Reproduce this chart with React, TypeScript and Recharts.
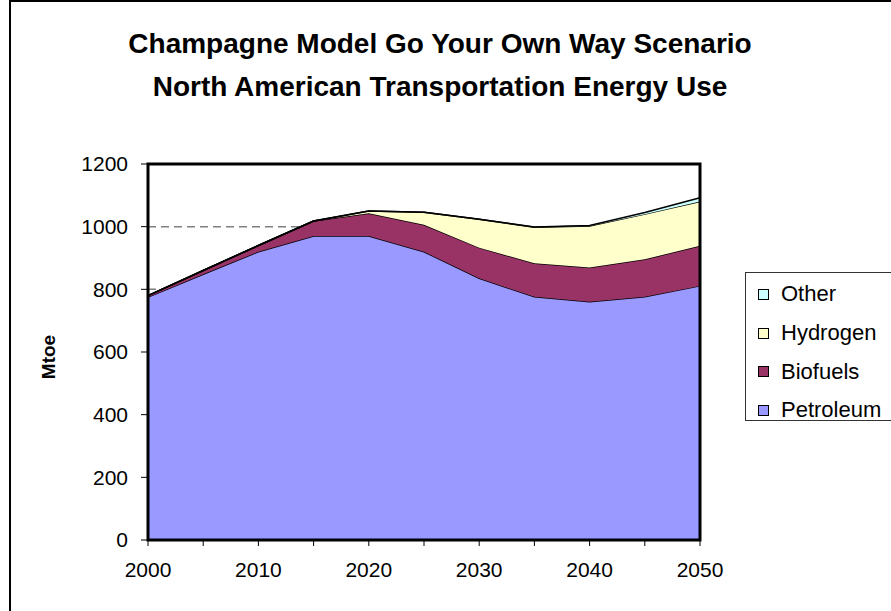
import React from 'react';
import { AreaChart, Area, XAxis, YAxis, CartesianGrid, ReferenceArea } from 'recharts';

const years = [2000, 2005, 2010, 2015, 2020, 2025, 2030, 2035, 2040, 2045, 2050];
const petroleum = [775, 848, 920, 970, 970, 920, 835, 776, 760, 776, 811];
const biofuels = [5, 12, 20, 48, 73, 86, 98, 107, 110, 120, 128];
const hydrogen = [0, 0, 0, 0, 7, 40, 91, 115, 132, 144, 141];
const other = [0, 0, 0, 0, 0, 0, 0, 1, 2, 5, 12];

const xTicks = [2000, 2005, 2010, 2015, 2020, 2025, 2030, 2035, 2040, 2045, 2050];
const yTicks = [0, 200, 400, 600, 800, 1000, 1200];

const series = [
    { key: 'Petroleum', color: '#9999FF' },
    { key: 'Biofuels', color: '#993366' },
    { key: 'Hydrogen', color: '#FFFFCC' },
    { key: 'Other', color: '#CCFFFF' },
];

const data = years.map((year, i) => ({
    year,
    Petroleum: petroleum[i],
    Biofuels: biofuels[i],
    Hydrogen: hydrogen[i],
    Other: other[i],
}));

const FONT = '"Liberation Sans", Arial, sans-serif';

function LegendBox() {
    // legend lists the stack top-down
    const items = [...series].reverse();
    return (
        <div style={{ position: 'absolute', left: 745, top: 272, width: 152, height: 149, boxSizing: 'border-box', border: '1px solid #333', background: '#fff', paddingTop: 2 }}>
            {items.map(s => (
                <div key={s.key} style={{ display: 'flex', alignItems: 'center', height: 38.7, fontFamily: FONT, fontSize: 22, color: '#000' }}>
                    <span style={{ display: 'inline-block', width: 9, height: 9, border: '1px solid #000', background: s.color, marginLeft: 12, marginRight: 12 }} />
                    {s.key}
                </div>
            ))}
        </div>
    );
}

function MtoeLabel({ viewBox }: any) {
    const cy = viewBox.y + viewBox.height / 2 + 5;
    return (
        <text x={48} y={cy} transform={`rotate(-90, 48, ${cy})`} textAnchor="middle" dominantBaseline="central"
            fontFamily={FONT} fontSize={19} fontWeight="bold" fill="#000">Mtoe</text>
    );
}

export default function App() {
    return (
        <div style={{ position: 'absolute', left: 0, top: 0, width: 891, height: 611, background: '#fff', overflow: 'hidden' }}>
            <div style={{ position: 'absolute', left: 9, top: 0, width: 900, height: 700, borderLeft: '2px solid #000', borderTop: '2px solid #000' }} />
            <div style={{ position: 'absolute', left: 0, top: 22, width: 880, textAlign: 'center', fontFamily: FONT, fontWeight: 'bold', fontSize: 28, lineHeight: '43px', color: '#000' }}>
                Champagne Model Go Your Own Way Scenario<br />North American Transportation Energy Use
            </div>
            <div style={{ position: 'absolute', left: 0, top: 0 }}>
                <AreaChart width={891} height={611} data={data} margin={{ top: 164, right: 191, bottom: 41, left: 88 }}>
                    <CartesianGrid horizontal vertical={false} stroke="#808080" strokeDasharray="8 5" strokeWidth={1.5} />
                    <XAxis dataKey="year" type="number" domain={[2000, 2050]} ticks={xTicks} interval={0}
                        tickFormatter={(v: number) => (v % 10 === 0 ? String(v) : '')}
                        height={30} tickSize={6} tickMargin={16}
                        axisLine={{ stroke: '#000', strokeWidth: 1.5 }} tickLine={{ stroke: '#000' }}
                        tick={{ fontFamily: FONT, fontSize: 21, fill: '#000' }} />
                    <YAxis type="number" domain={[0, 1200]} ticks={yTicks} interval={0} width={60}
                        tickSize={7} tickMargin={13}
                        axisLine={{ stroke: '#000', strokeWidth: 1.5 }} tickLine={{ stroke: '#000' }}
                        tick={{ fontFamily: FONT, fontSize: 21, fill: '#000' }}
                        label={<MtoeLabel />} />
                    {series.map(s => (
                        <Area key={s.key} type="linear" dataKey={s.key} stackId="1" fill={s.color} fillOpacity={1}
                            stroke="#000" strokeWidth={1.5} isAnimationActive={false} />
                    ))}
                    <ReferenceArea x1={2000} x2={2050} y1={0} y2={1200} fill="none" stroke="#000" strokeWidth={3} ifOverflow="visible" />
                </AreaChart>
            </div>
            <LegendBox />
        </div>
    );
}
